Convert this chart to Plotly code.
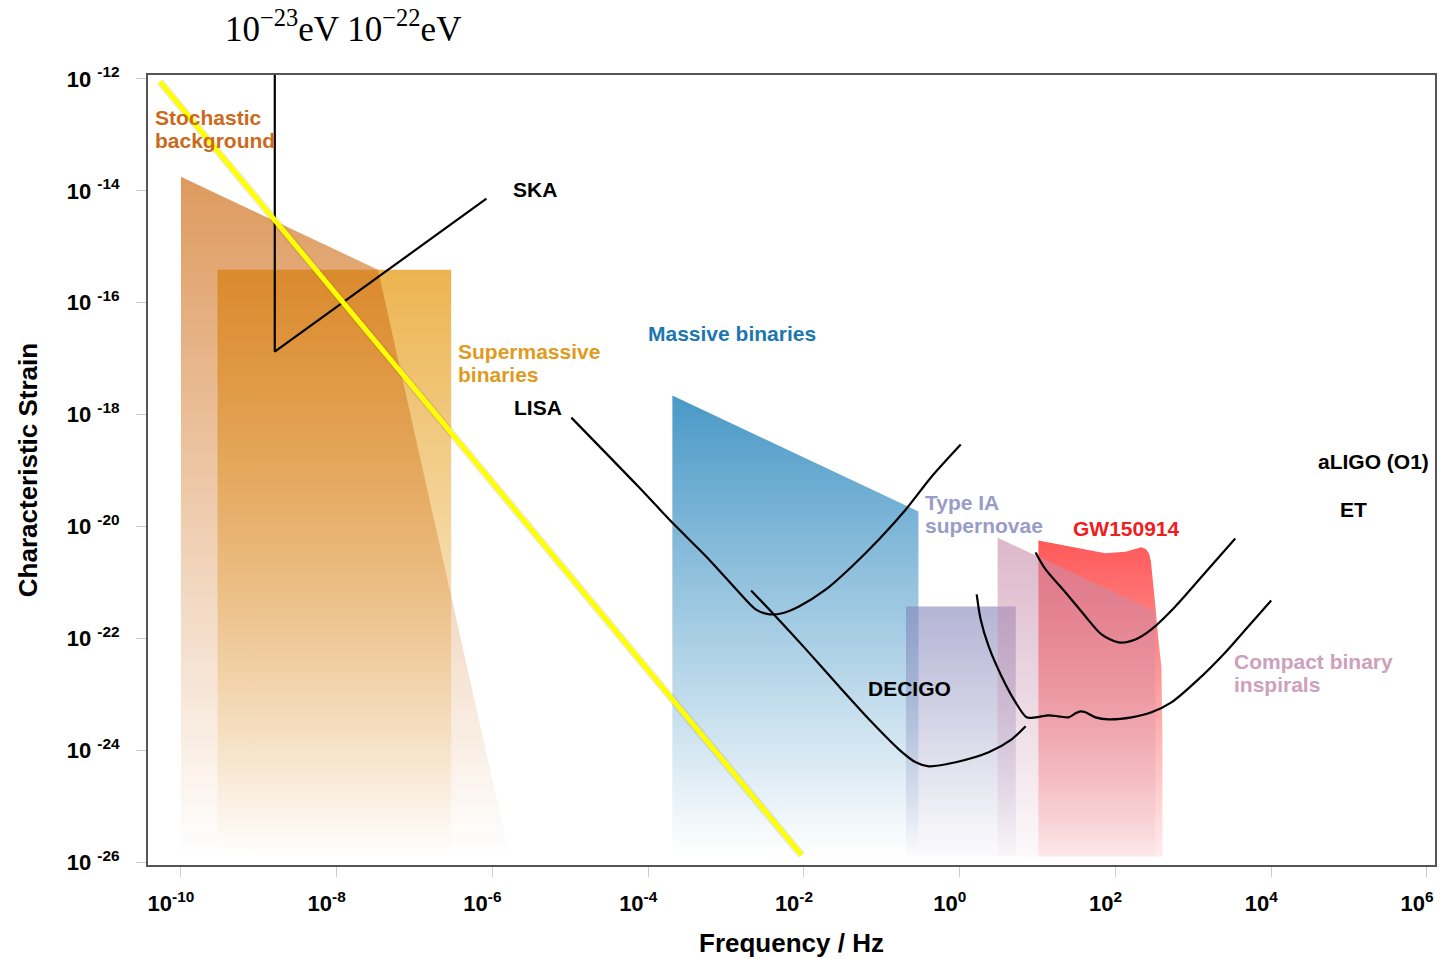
import numpy as np
import plotly.graph_objects as go

# ---------------- data (log10 of frequency [Hz] and characteristic strain) ----------------
STOCH_LOGF = [-10.0, -7.47, -5.78, -10.0, -10.0]
STOCH_LOGH = [-13.75, -15.41, -25.9, -25.9, -13.75]

SMBH_LOGF = [-9.53, -6.53, -6.53, -9.53, -9.53]
SMBH_LOGH = [-15.41, -15.41, -25.9, -25.9, -15.41]

MASSIVE_LOGF = [-3.69, -0.53, -0.53, -3.69, -3.69]
MASSIVE_LOGH = [-17.66, -19.73, -25.9, -25.9, -17.66]

SN_LOGF = [-0.69, 0.72, 0.72, -0.69, -0.69]
SN_LOGH = [-21.43, -21.43, -25.9, -25.9, -21.43]

GW_LOGF = [1.01, 1.87, 2.13, 2.26, 2.33, 2.39, 2.43, 2.455, 2.48, 2.513, 2.551, 2.59, 2.603, 2.603, 1.01, 1.01]
GW_LOGH = [-20.25, -20.48, -20.45, -20.39, -20.37, -20.4, -20.48, -20.62, -20.95, -21.43, -22.02, -22.5, -23.8, -25.9, -25.9, -20.25]

CBC_LOGF = [0.487, 2.513, 2.513, 0.487, 0.487]
CBC_LOGH = [-20.2, -21.52, -25.9, -25.9, -20.2]

SKA_LOGF = [-8.795, -8.795, -6.077]
SKA_LOGH = [-11.93, -16.875, -14.14]

LISA_LOGF = [-4.987, -4.115, -3.692, -3.256, -2.833, -2.62, -2.44, -2.28, -2.064, -1.718, -1.385, -1.038, -0.692, -0.359, 0.013]
LISA_LOGH = [-18.054, -19.304, -19.929, -20.536, -21.179, -21.48, -21.57, -21.55, -21.429, -21.125, -20.714, -20.232, -19.696, -19.107, -18.536]

DECIGO_LOGF = [-2.679, -2.41, -1.974, -1.551, -1.128, -0.782, -0.564, -0.397, -0.051, 0.372, 0.667, 0.846]
DECIGO_LOGH = [-21.143, -21.536, -22.196, -22.857, -23.5, -23.982, -24.214, -24.286, -24.214, -24.036, -23.804, -23.571]

ALIGO_LOGF = [0.974, 1.103, 1.359, 1.615, 1.821, 2.038, 2.256, 2.462, 2.769, 3.154, 3.538]
ALIGO_LOGH = [-20.464, -20.768, -21.179, -21.607, -21.929, -22.071, -22.018, -21.839, -21.429, -20.821, -20.214]

ET_LOGF = [0.218, 0.269, 0.372, 0.538, 0.718, 0.859, 0.974, 1.141, 1.269, 1.397, 1.487, 1.551, 1.615, 1.744, 1.91, 2.205, 2.462, 2.718, 3.064, 3.41, 3.705, 4.0]
ET_LOGH = [-21.214, -21.661, -22.143, -22.679, -23.143, -23.411, -23.411, -23.375, -23.393, -23.411, -23.339, -23.304, -23.321, -23.411, -23.446, -23.411, -23.321, -23.143, -22.732, -22.25, -21.786, -21.321]

YELLOW_LOGF = [-10.27, -2.03]
YELLOW_LOGH = [-12.05, -25.875]

X_TICK_EXP = [-10, -8, -6, -4, -2, 0, 2, 4, 6]
Y_TICK_EXP = [-12, -14, -16, -18, -20, -22, -24, -26]


def lin(v):
    return [10.0 ** e for e in v]


fig = go.Figure()


def area(lf, lh, rgb, a_top, a_bot=0.0):
    r, g, b = rgb
    fig.add_trace(go.Scatter(
        x=lin(lf), y=lin(lh), mode="lines", line=dict(width=0),
        fill="toself",
        fillgradient=dict(type="vertical", colorscale=[
            [0.0, f"rgba({r},{g},{b},{a_bot})"],
            [1.0, f"rgba({r},{g},{b},{a_top})"]]),
        hoverinfo="skip", showlegend=False))


area(SMBH_LOGF, SMBH_LOGH, (233, 167, 49), 0.85)
area(STOCH_LOGF, STOCH_LOGH, (207, 109, 22), 0.69)
area(MASSIVE_LOGF, MASSIVE_LOGH, (60, 145, 195), 0.93)
area(SN_LOGF, SN_LOGH, (130, 130, 185), 0.6, 0.03)
area(GW_LOGF, GW_LOGH, (255, 70, 70), 0.9, 0.1)
area(CBC_LOGF, CBC_LOGH, (200, 140, 170), 0.62, 0.05)


def curve(lf, lh, shape="spline"):
    fig.add_trace(go.Scatter(x=lin(lf), y=lin(lh), mode="lines",
                             line=dict(color="black", width=2.2, shape=shape, smoothing=0.8),
                             hoverinfo="skip", showlegend=False))


curve(SKA_LOGF, SKA_LOGH, "linear")
curve(LISA_LOGF, LISA_LOGH)
curve(DECIGO_LOGF, DECIGO_LOGH)
curve(ALIGO_LOGF, ALIGO_LOGH)
curve(ET_LOGF, ET_LOGH)

fig.add_trace(go.Scatter(x=lin(YELLOW_LOGF), y=lin(YELLOW_LOGH), mode="lines",
                         line=dict(color="rgba(90,90,0,0.12)", width=8),
                         hoverinfo="skip", showlegend=False))
fig.add_trace(go.Scatter(x=lin(YELLOW_LOGF), y=lin(YELLOW_LOGH), mode="lines",
                         line=dict(color="#FFFF00", width=5),
                         hoverinfo="skip", showlegend=False))

SANS = "Liberation Sans"
ann = []


def label(text, lx, ly, color, xanchor="center", size=21):
    ann.append(dict(text=text, x=lx, y=ly, xref="x", yref="y", showarrow=False,
                    xanchor=xanchor, yanchor="middle", align="left",
                    font=dict(family=SANS, size=size, color=color, weight="bold")))


label("Stochastic", -10.36, -12.696, "#C96A1C", "left")
label("background", -10.36, -13.107, "#C96A1C", "left")
label("Supermassive", -6.47, -16.875, "#E09A1E", "left")
label("binaries", -6.47, -17.286, "#E09A1E", "left")
label("Massive binaries", -2.92, -16.55, "#1C77B0")
label("SKA", -5.45, -13.98, "black")
label("LISA", -5.41, -17.88, "black")
label("Type IA", -0.47, -19.571, "#9A9CC8", "left")
label("supernovae", -0.47, -19.982, "#9A9CC8", "left")
label("DECIGO", -0.64, -22.89, "black")
label("GW150914", 2.14, -20.04, "#F01E1E")
label("Compact binary", 3.49, -22.411, "#CDA0BC", "left")
label("inspirals", 3.49, -22.821, "#CDA0BC", "left")
label("aLIGO (O1)", 5.31, -18.84, "black")
label("ET", 5.05, -19.70, "black")

ann.append(dict(text="10<sup>−23</sup>eV 10<sup>−22</sup>eV", x=0.1513, y=1.062,
                xref="paper", yref="paper", showarrow=False, xanchor="center", yanchor="middle",
                font=dict(family="Liberation Serif", size=35, color="black")))
ann.append(dict(text="Frequency / Hz", x=0.5, y=-0.0987, xref="paper", yref="paper",
                showarrow=False, xanchor="center", yanchor="middle",
                font=dict(family=SANS, size=26, color="black", weight="bold")))
ann.append(dict(text="Characteristic Strain", x=-0.0931, y=0.5, xref="paper", yref="paper",
                showarrow=False, xanchor="center", yanchor="middle", textangle=-90,
                font=dict(family=SANS, size=26, color="black", weight="bold")))

fig.update_layout(
    width=1441, height=959,
    margin=dict(l=148, r=4, t=75, b=94),
    paper_bgcolor="white", plot_bgcolor="white",
    annotations=ann,
    xaxis=dict(type="log", range=[-10.423, 6.103], showgrid=False, zeroline=False,
               tickvals=[10.0 ** e for e in X_TICK_EXP],
               ticktext=[f"10<sup>{e}</sup>" for e in X_TICK_EXP],
               ticks="outside", ticklen=10, tickcolor="#cccccc", tickwidth=1,
               ticklabelstandoff=8, ticklabelshift=-10,
               tickfont=dict(family=SANS, size=22, color="black", weight="bold"),
               showline=True, linecolor="#555555", linewidth=2, mirror=True),
    yaxis=dict(type="log", range=[-26.05, -11.93], showgrid=False, zeroline=False,
               tickvals=[10.0 ** e for e in Y_TICK_EXP],
               ticktext=[f"10 <sup>{e}</sup>" for e in Y_TICK_EXP],
               ticks="outside", ticklen=10, tickcolor="#cccccc", tickwidth=1,
               ticklabelstandoff=12,
               tickfont=dict(family=SANS, size=22, color="black", weight="bold"),
               showline=True, linecolor="#555555", linewidth=2, mirror=True),
)

fig.write_html("out.html")
